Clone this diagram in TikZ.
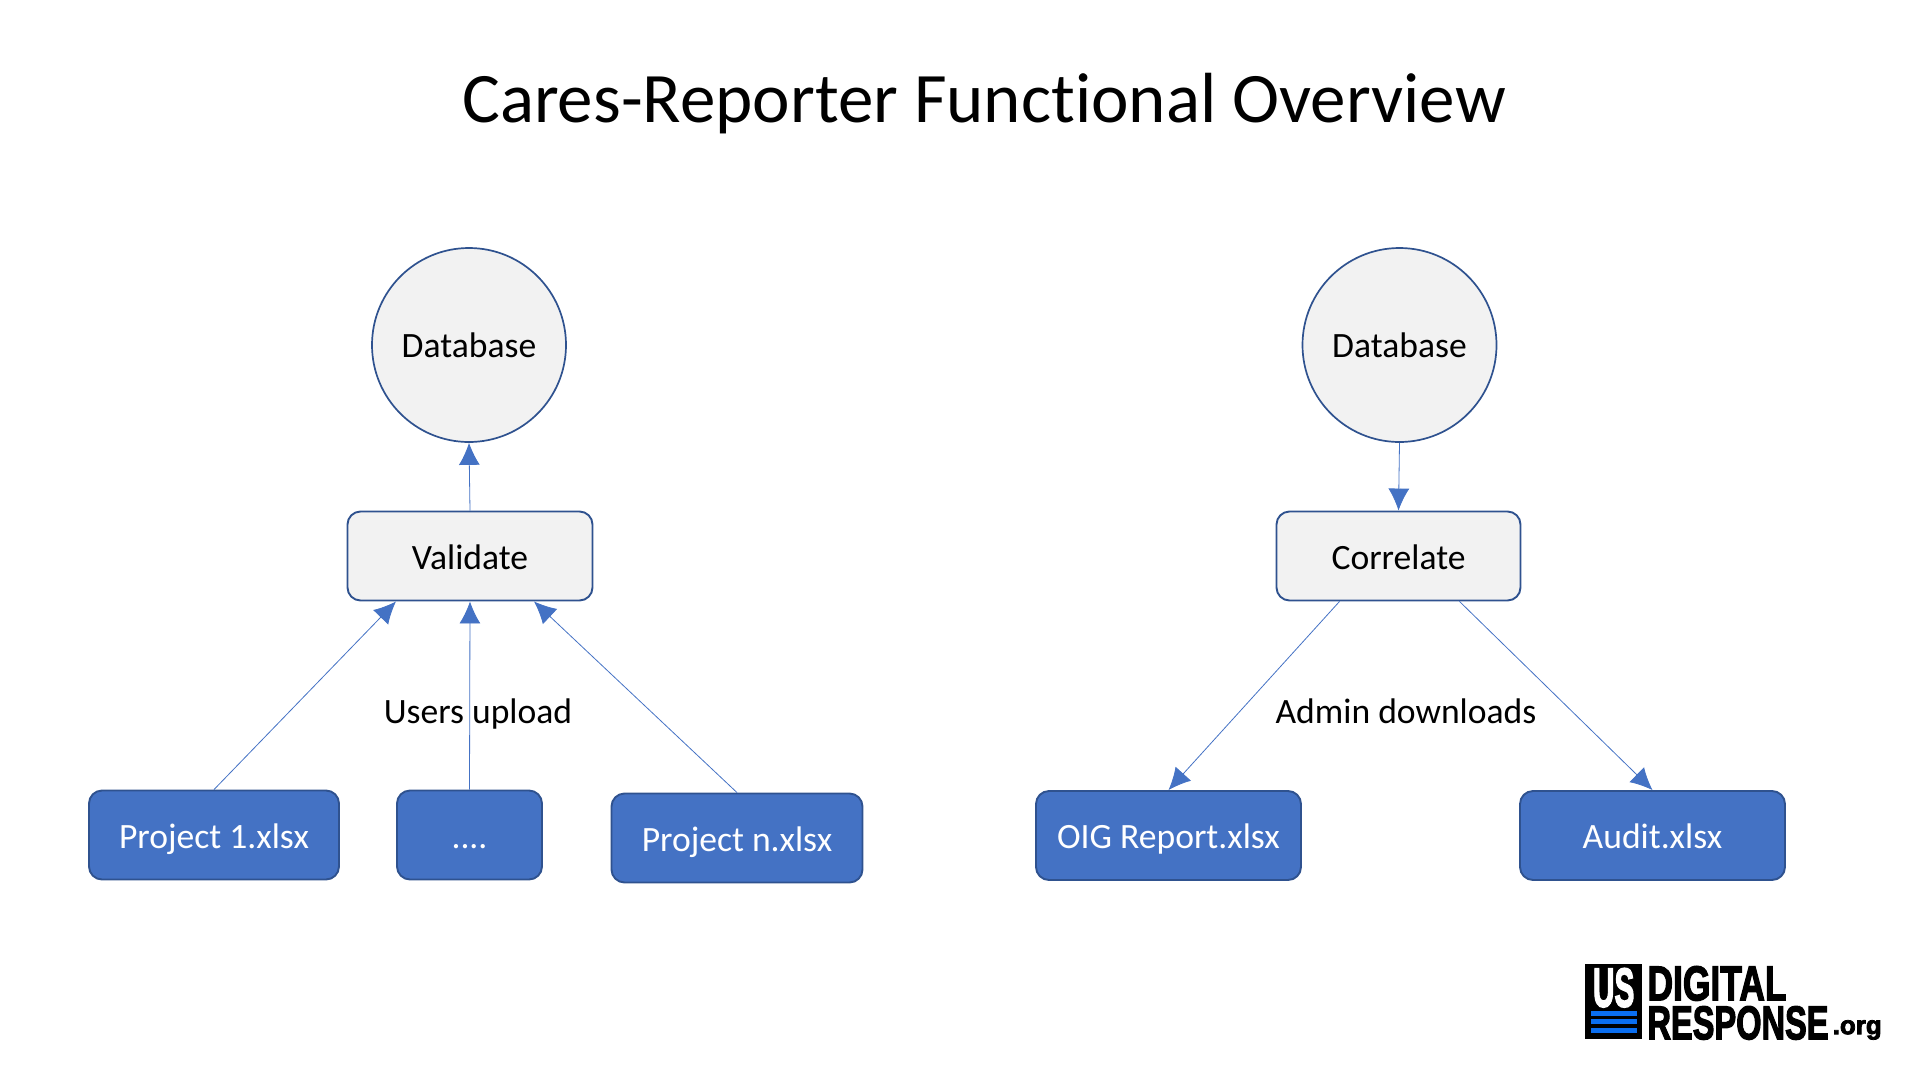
\documentclass[tikz,border=0pt]{standalone}
\usepackage{fontspec}
\usepackage{graphicx}
\setmainfont[RawFeature={-liga}]{Carlito}
\newfontfamily\logofont[FakeBold=3]{Liberation Sans Bold}
\definecolor{boxblue}{HTML}{4472C4}
\definecolor{boxline}{HTML}{2F528F}
\definecolor{boxgrey}{HTML}{F2F2F2}
\definecolor{barblue}{HTML}{0A6EF0}
\usetikzlibrary{arrows.meta}
\tikzset{
	lbl/.style={inner sep=0pt,text height=24pt,text depth=0pt,font=\fontsize{35.6}{36}\selectfont},
	dbcircle/.style={lbl,circle,draw=boxline,fill=boxgrey,line width=1.7pt,minimum size=194pt},
	stepbox/.style={lbl,text height=26pt,rectangle,rounded corners=13pt,draw=boxline,fill=boxgrey,line width=1.9pt,minimum height=89pt},
	filebox/.style={stepbox,fill=boxblue,text=white},
	flow/.style={draw=boxblue,line width=0.8pt,-{Latex[length=22pt,width=21pt]}},
	logotxt/.style={inner sep=0pt,anchor=north west,font=\logofont}
}
\begin{document}
\begin{tikzpicture}[x=1pt,y=-1pt]
	\useasboundingbox (0,0) rectangle (1912,1077);
	\node (title) at (984,104) {\fontsize{71}{72}\selectfont Cares-Reporter Functional Overview};
	% left side
	\node [dbcircle] (dbl) at (469,345) {Database};
	\node [stepbox,minimum width=245pt] (val) at (470,556) {Validate};
	\node [filebox,minimum width=250pt] (pone) at (214,835) {Project 1.xlsx};
	\node [filebox,minimum width=145pt] (pdots) at (469.5,835) {....};
	\node [filebox,minimum width=251pt] (pn) at (737,838) {Project n.xlsx};
	\draw [flow] (val.north) -- (dbl.south);
	\draw [flow] (pone.north) -- ([xshift=-74pt]val.south);
	\draw [flow] (pdots.north) -- (val.south);
	\draw [flow] (pn.north) -- ([xshift=64pt]val.south);
	\node [lbl] (upl) at (478,711) {Users upload};
	% right side
	\node [dbcircle] (dbr) at (1399.5,345) {Database};
	\node [stepbox,minimum width=244pt] (cor) at (1398.5,556) {Correlate};
	\node [filebox,minimum width=265pt] (oig) at (1168.5,835.5) {OIG Report.xlsx};
	\node [filebox,minimum width=265pt] (aud) at (1652.5,835.5) {Audit.xlsx};
	\draw [flow] (dbr.south) -- (cor.north);
	\draw [flow] ([xshift=-59pt]cor.south) -- (oig.north);
	\draw [flow] ([xshift=61pt]cor.south) -- (aud.north);
	\node [lbl] (dwn) at (1406,711) {Admin downloads};
	% logo
	\fill (1585,964) rectangle (1642,1039);
	\node [logotxt,text=white] (us) at (1592.7,968) {\resizebox{41.5pt}{38.5pt}{US}};
	\foreach \y in {1010.7,1019,1027.7}
		\fill [barblue] (1590.7,\y) rectangle (1636.7,\y+5);
	\node [logotxt] (dig) at (1647.3,966) {\resizebox{139pt}{34pt}{DIGITAL}};
	\node [logotxt] (res) at (1647.3,1006) {\resizebox{181pt}{33pt}{RESPONSE}};
	\node [logotxt] (org) at (1832.5,1020) {\resizebox{49pt}{!}{.org}};
\end{tikzpicture}
\end{document}
